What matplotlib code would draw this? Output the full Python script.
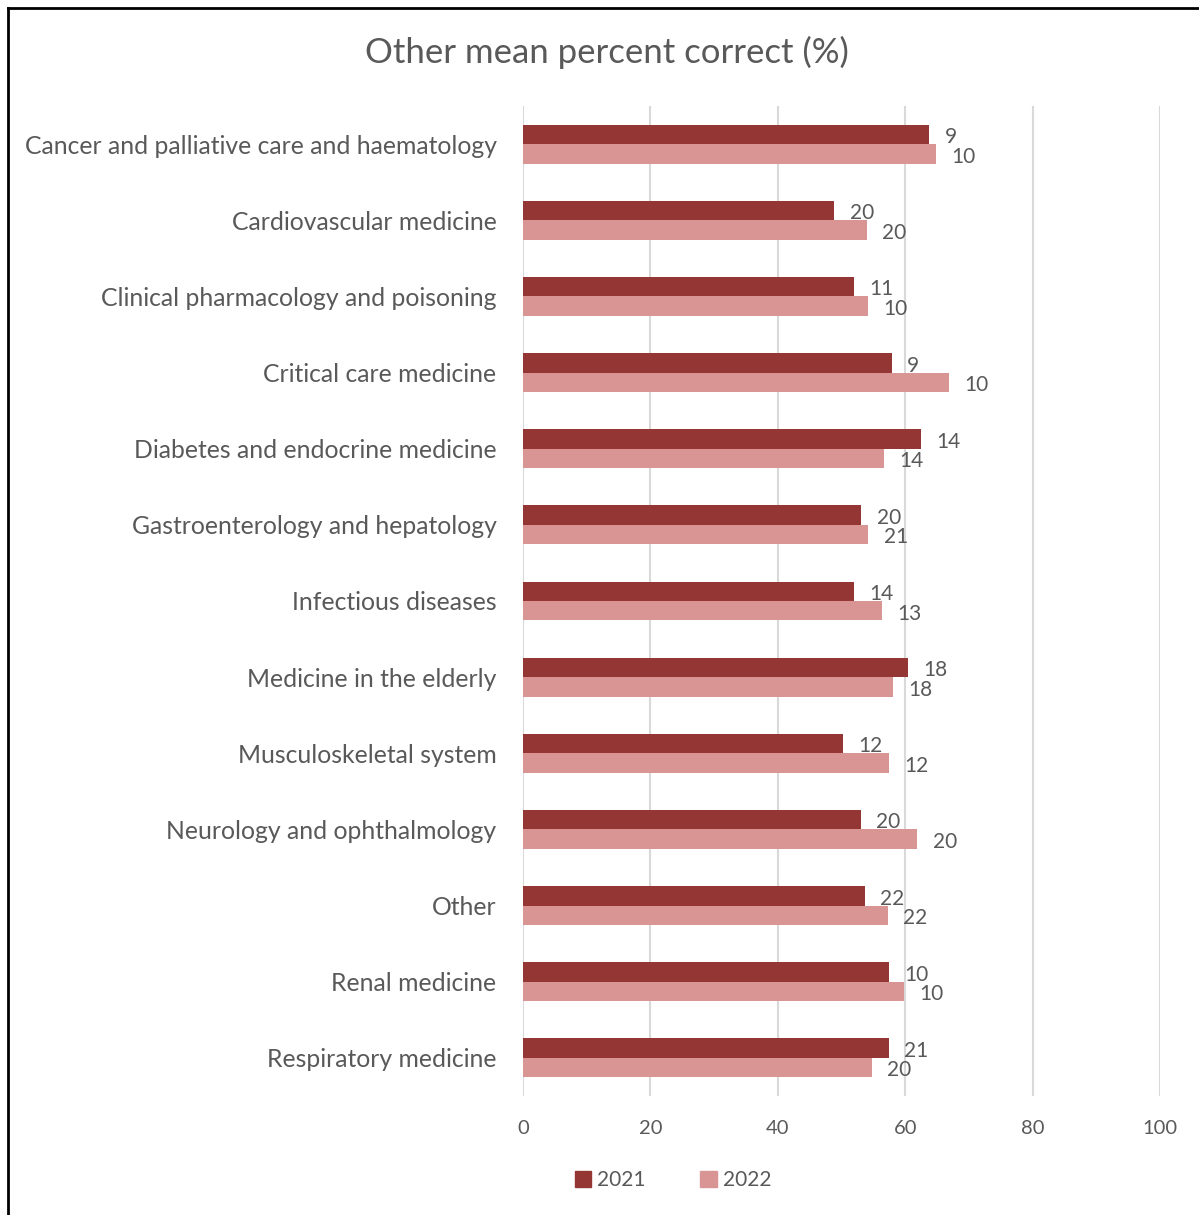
import numpy as np
import matplotlib.pyplot as plt
from matplotlib.lines import Line2D
from matplotlib.patches import Patch

# Data
categories = ["Cancer and palliative care and haematology", "Cardiovascular medicine",
              "Clinical pharmacology and poisoning", "Critical care medicine",
              "Diabetes and endocrine medicine", "Gastroenterology and hepatology",
              "Infectious diseases", "Medicine in the elderly", "Musculoskeletal system",
              "Neurology and ophthalmology", "Other", "Renal medicine", "Respiratory medicine"]
pct_2021 = [63.8, 48.9, 52.0, 57.9, 62.5, 53.1, 52.0, 60.4, 50.3, 53.0, 53.7, 57.5, 57.4]
pct_2022 = [64.8, 54.0, 54.2, 66.9, 56.7, 54.2, 56.3, 58.1, 57.4, 61.9, 57.3, 59.8, 54.8]
n_2021 = [9, 20, 11, 9, 14, 20, 14, 18, 12, 20, 22, 10, 21]
n_2022 = [10, 20, 10, 10, 14, 21, 13, 18, 12, 20, 22, 10, 20]

dark = "#943634"
light = "#D99594"
grey = "#595959"

plt.rcParams['font.family'] = ['Lato', 'DejaVu Sans']

W, H = 1199, 1215
fig = plt.figure(figsize=(W / 100, H / 100), dpi=100)
ax = fig.add_axes([523 / W, 1 - 1096 / H, (1160 - 523) / W, (1096 - 106) / H])

y = np.arange(len(categories))
h = 0.256
ax.barh(y - h / 2, pct_2021, height=h, color=dark, label="2021", zorder=3)
ax.barh(y + h / 2, pct_2022, height=h, color=light, label="2022", zorder=3)

# data labels show the number of questions, not the bar value
for i in range(len(categories)):
    ax.annotate(str(n_2021[i]), (pct_2021[i], y[i] - h / 2), xytext=(11, -2),
                textcoords="offset points", ha="left", va="center", fontsize=15, color=grey)
    ax.annotate(str(n_2022[i]), (pct_2022[i], y[i] + h / 2), xytext=(11, -2),
                textcoords="offset points", ha="left", va="center", fontsize=15, color=grey)

ax.set_xlim(0, 100)
ax.set_ylim(len(categories) - 0.5, -0.5)
ax.set_xticks(range(0, 101, 20))
ax.set_yticks(y)
ax.set_yticklabels(categories)
ax.tick_params(axis="y", length=0, pad=19, labelsize=17.8, labelcolor=grey)
ax.tick_params(axis="x", length=0, pad=17, labelsize=14.5, labelcolor=grey)
ax.grid(axis="x", color="#D9D9D9", linewidth=1.5, zorder=0)
for s in ax.spines.values():
    s.set_visible(False)

fig.text(607 / W, 1 - 52 / H, "Other mean percent correct (%)", ha="center", va="center",
         fontsize=25, color=grey)

handles = [Patch(color=dark, label="2021"), Patch(color=light, label="2022")]
fig.legend(handles=handles, loc="center", bbox_to_anchor=(673 / W, 1 - 1180 / H), ncol=2,
           frameon=False, fontsize=15, labelcolor=grey, handlelength=0.8, handleheight=0.8,
           handletextpad=0.3, columnspacing=2.6)

# outer border (top and left visible in the reference)
fig.add_artist(Line2D([8 / W, 8 / W], [0, 1 - 8 / H], color="black", linewidth=2))
fig.add_artist(Line2D([8 / W, 1], [1 - 8 / H, 1 - 8 / H], color="black", linewidth=2))

fig.savefig("out.png", dpi=100)
